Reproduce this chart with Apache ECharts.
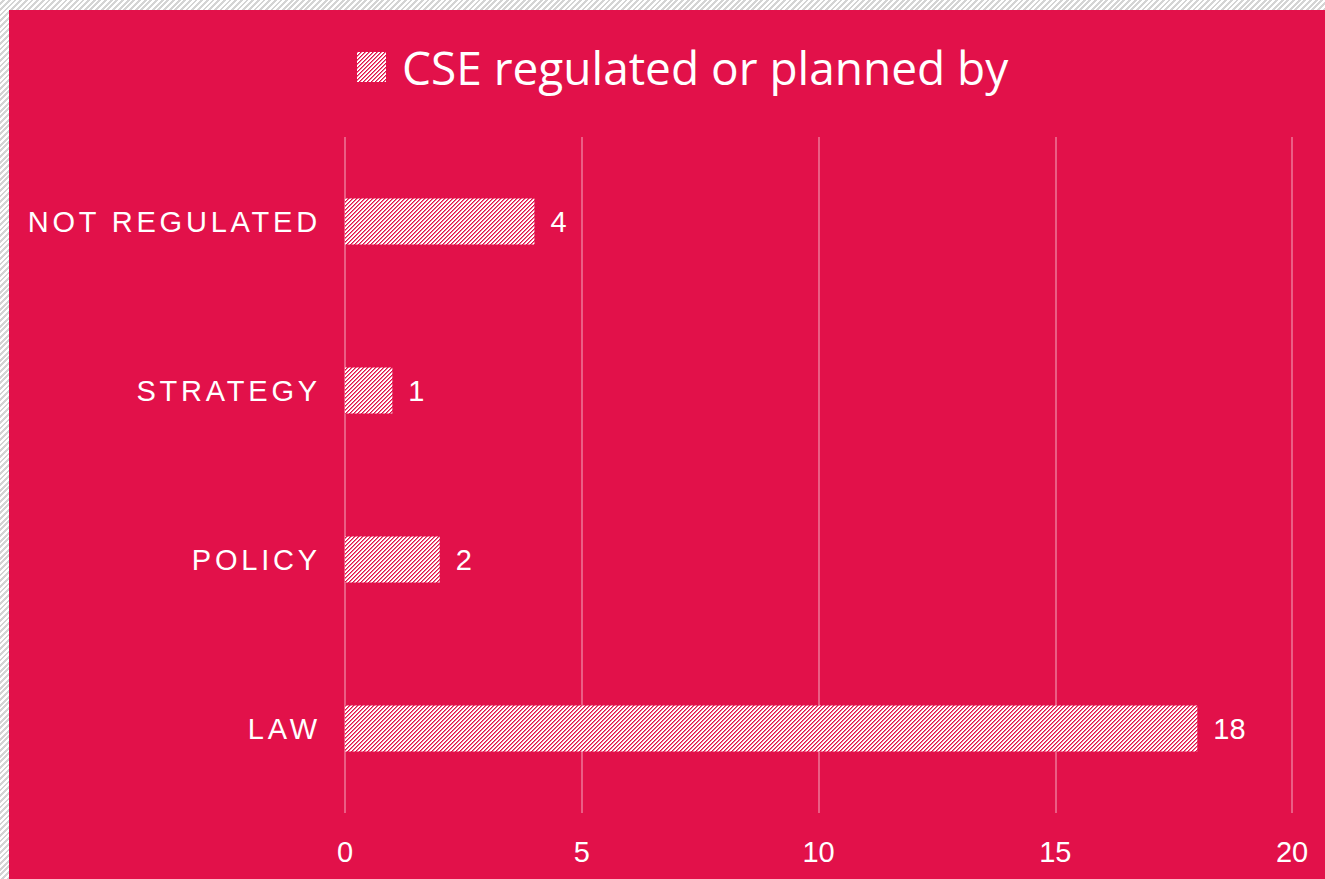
<!DOCTYPE html>
<html>
<head>
<meta charset="utf-8">
<script src="https://cdn.jsdelivr.net/npm/echarts@6/dist/echarts.min.js"></script>
<style>
  html, body { margin: 0; padding: 0; width: 1325px; height: 879px; overflow: hidden; }
  body {
    background: repeating-linear-gradient(135deg, #ffffff 0px, #ffffff 2px, #d4d4d4 2px, #d4d4d4 4px);
  }
  #chart { position: absolute; left: 9px; top: 10px; width: 1316px; height: 869px; background: #E2114A; }
</style>
</head>
<body>
<div id="chart"></div>
<script>
const seriesName = 'CSE regulated or planned by';
const categories = ['LAW', 'POLICY', 'STRATEGY', 'NOT REGULATED'];
const values = [18, 2, 1, 4];
const xTicks = { min: 0, max: 20, interval: 5 };

const RED = '#E2114A';
function makePattern() {
  const c = document.createElement('canvas');
  c.width = 4; c.height = 4;
  const ctx = c.getContext('2d');
  ctx.fillStyle = '#ffffff';
  ctx.fillRect(0, 0, 4, 4);
  for (let y = 0; y < 4; y++) {
    for (let x = 0; x < 4; x++) {
      const k = (x + y) % 4;
      if (k === 3) { ctx.fillStyle = RED; ctx.fillRect(x, y, 1, 1); }
      else if (k === 0) { ctx.fillStyle = 'rgba(226,17,74,0.6)'; ctx.fillRect(x, y, 1, 1); }
    }
  }
  return c;
}
const pattern = { image: makePattern(), repeat: 'repeat' };

const chart = echarts.init(document.getElementById('chart'), null, { renderer: 'svg' });
chart.setOption({
  backgroundColor: RED,
  animation: false,
  legend: {
    data: [seriesName],
    left: 348,
    top: 34,
    padding: 0,
    icon: 'rect',
    itemWidth: 29,
    itemHeight: 30,
    textStyle: { color: '#ffffff', fontSize: 46, fontFamily: 'Open Sans', padding: [0, 0, 0, 11] }
  },
  grid: { left: 336, right: 33, top: 127, bottom: 66, containLabel: false },
  xAxis: {
    type: 'value',
    min: xTicks.min, max: xTicks.max, interval: xTicks.interval,
    axisLine: { show: false },
    axisTick: { show: false },
    splitLine: { show: true, lineStyle: { color: 'rgba(255,255,255,0.32)', width: 2 } },
    axisLabel: { color: '#ffffff', fontSize: 29, fontFamily: 'Liberation Sans', margin: 24 }
  },
  yAxis: {
    type: 'category',
    data: categories,
    axisLine: { show: false },
    axisTick: { show: false },
    axisLabel: { color: '#ffffff', fontSize: 29, fontFamily: 'Liberation Sans', margin: 24 }
  },
  series: [{
    name: seriesName,
    type: 'bar',
    data: values,
    barWidth: 46,
    itemStyle: { color: pattern },
    label: { show: true, position: 'right', distance: 16, color: '#ffffff', fontSize: 29, fontFamily: 'Liberation Sans' }
  }]
});

// letter spacing for the category labels (visual style only)
function spaceLabels() {
  document.querySelectorAll('#chart svg text').forEach(t => {
    if (categories.indexOf(t.textContent) >= 0) {
      t.setAttribute('letter-spacing', '3.8px');
    }
  });
}
spaceLabels();
chart.on('finished', spaceLabels);
</script>
</body>
</html>
